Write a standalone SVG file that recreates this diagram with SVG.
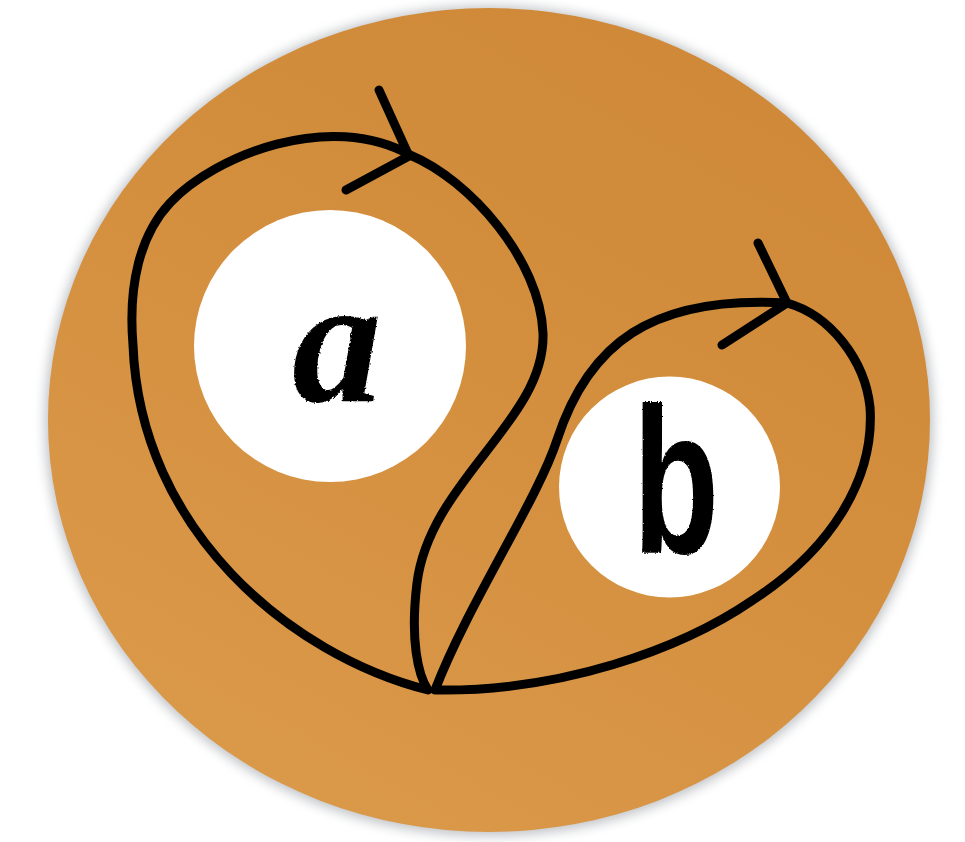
<svg xmlns="http://www.w3.org/2000/svg" width="965" height="842" viewBox="0 0 965 842">
  <defs>
    <linearGradient id="disk" x1="0.8" y1="0.1" x2="0.3" y2="0.95">
      <stop offset="0" stop-color="#CF8938"/>
      <stop offset="0.5" stop-color="#D4903F"/>
      <stop offset="1" stop-color="#DA9849"/>
    </linearGradient>
    <filter id="shadow" x="-10%" y="-10%" width="120%" height="120%">
      <feGaussianBlur stdDeviation="6"/>
    </filter>
    <filter id="chalk" x="-10%" y="-10%" width="120%" height="120%">
      <feTurbulence type="fractalNoise" baseFrequency="0.5" numOctaves="2" seed="7" result="noise"/>
      <feDisplacementMap in="SourceGraphic" in2="noise" scale="3" xChannelSelector="R" yChannelSelector="G"/>
    </filter>
    <style>
      .chalk { fill: none; stroke: #000; stroke-width: 9; stroke-linecap: round; stroke-linejoin: round; }
      .node { fill: #fff; }
      .lbl { fill: #000; }
    </style>
  </defs>

  <ellipse cx="489" cy="421" rx="444" ry="415" fill="#8a8f96" opacity="0.55" filter="url(#shadow)"/>
  <ellipse cx="489" cy="420" rx="441" ry="412" fill="url(#disk)"/>

  <g id="node-a">
    <circle class="node" cx="330" cy="346" r="136"/>
    <text class="lbl" x="337" y="401" text-anchor="middle" font-family="'Liberation Serif', serif" font-style="italic" font-weight="bold" font-size="180" filter="url(#chalk)">a</text>
  </g>

  <g id="node-b">
    <circle class="node" cx="669.5" cy="487" r="110.5"/>
    <text class="lbl" transform="translate(676,553) scale(0.68,1)" x="0" y="0" text-anchor="middle" font-family="'Liberation Sans', sans-serif" font-weight="bold" font-size="208" filter="url(#chalk)">b</text>
  </g>

  <g id="connectors">
    <path id="loop-a" class="chalk" d="M428,690 C290,655 140,530 133,345 C128,285 140,235 170,203 C215,155 330,110 410,155 C470,180 540,260 543,333 C546,420 430,480 417,583 C410,640 418,675 428,690"/>
    <path id="arrow-a" class="chalk" d="M379,90 L409,156 M346,190 L409,156"/>
    <path id="loop-b" class="chalk" d="M435,690 C470,600 537,501 557,440 C588,345 650,295 787,303 C830,315 865,360 870,407 C875,480 830,550 753,600 C680,650 560,692 435,690"/>
    <path id="arrow-b" class="chalk" d="M758,243 L787,303 M722,345 L787,303"/>
  </g>
</svg>
